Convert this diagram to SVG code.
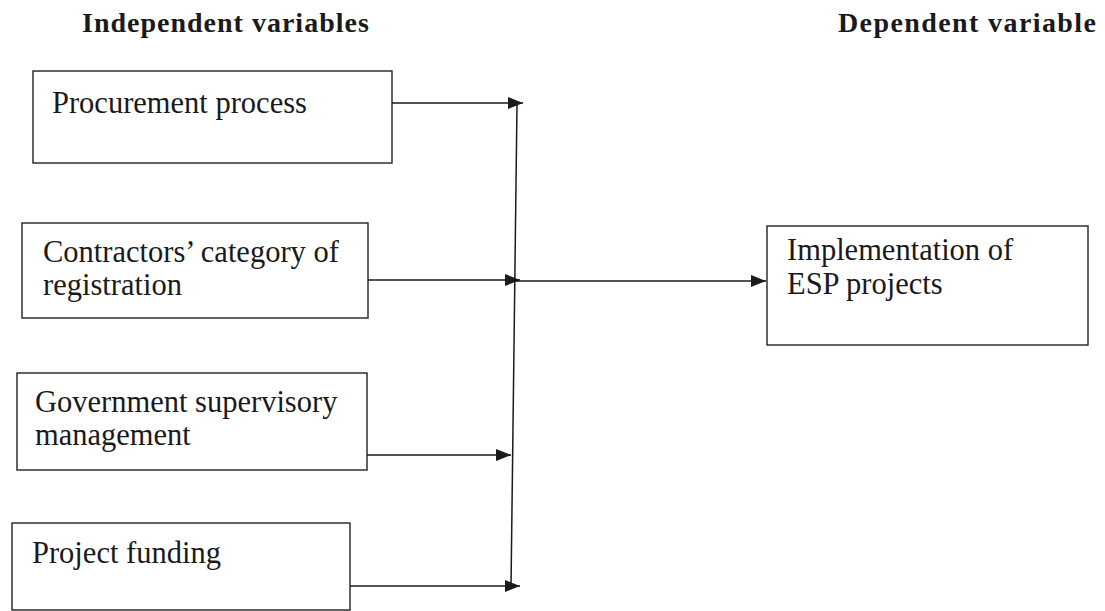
<svg xmlns="http://www.w3.org/2000/svg" width="1105" height="611" viewBox="0 0 1105 611">
  <style>
    .box { fill: #ffffff; stroke: #222222; stroke-width: 1.4; }
    .txt { font-family: "Liberation Serif", "Times New Roman", serif; font-size: 30.5px; fill: #1a1a1a; }
    .head { font-family: "Liberation Serif", "Times New Roman", serif; font-size: 28px; font-weight: bold; fill: #1a1a1a; letter-spacing: 1px; }
    .conn { stroke: #1a1a1a; stroke-width: 1.5; fill: none; }
  </style>
  <defs>
    <marker id="arrow" viewBox="0 0 15 12" refX="15" refY="6" markerWidth="15" markerHeight="12" markerUnits="userSpaceOnUse" orient="auto">
      <path d="M0,0 L15,6 L0,12 Z" fill="#1a1a1a"/>
    </marker>
  </defs>
  <rect width="1105" height="611" fill="#ffffff"/>

  <g id="headings">
    <text class="head" x="82" y="32">Independent variables</text>
    <text class="head" x="838" y="32" style="letter-spacing:1.4px">Dependent variable</text>
  </g>

  <g id="node-procurement">
    <rect class="box" x="33" y="71" width="359" height="92"/>
    <text class="txt" x="52" y="113">Procurement process</text>
  </g>

  <g id="node-contractors">
    <rect class="box" x="22" y="223" width="346" height="95"/>
    <text class="txt" x="43" y="262">Contractors’ category of</text>
    <text class="txt" x="43" y="295">registration</text>
  </g>

  <g id="node-government">
    <rect class="box" x="17" y="373" width="350" height="97"/>
    <text class="txt" x="35" y="412">Government supervisory</text>
    <text class="txt" x="35" y="445">management</text>
  </g>

  <g id="node-funding">
    <rect class="box" x="12" y="523" width="338" height="87"/>
    <text class="txt" x="32" y="563">Project funding</text>
  </g>

  <g id="node-esp">
    <rect class="box" x="767" y="226" width="321" height="119"/>
    <text class="txt" x="787" y="260">Implementation of</text>
    <text class="txt" x="787" y="294">ESP projects</text>
  </g>

  <g id="connectors">
    <line class="conn" x1="517" y1="104" x2="511" y2="588"/>
    <line class="conn" x1="392" y1="103" x2="523" y2="103" marker-end="url(#arrow)"/>
    <line class="conn" x1="368" y1="280" x2="520" y2="280" marker-end="url(#arrow)"/>
    <line class="conn" x1="514" y1="281" x2="766" y2="281" marker-end="url(#arrow)"/>
    <line class="conn" x1="367" y1="455" x2="511" y2="455" marker-end="url(#arrow)"/>
    <line class="conn" x1="350" y1="586" x2="520" y2="586" marker-end="url(#arrow)"/>
  </g>
</svg>
